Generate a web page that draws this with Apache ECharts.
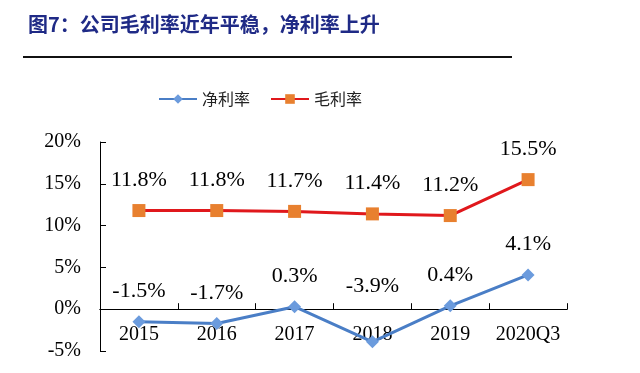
<!DOCTYPE html>
<html><head><meta charset="utf-8">
<script src="https://cdn.jsdelivr.net/npm/echarts@6/dist/echarts.min.js"></script>
<style>html,body{margin:0;padding:0;background:#fff}#c{width:640px;height:373px}</style>
</head><body><div id="c"></div>
<script>
const categories = ['2015','2016','2017','2018','2019','2020Q3'];
const netMargin = [-1.5, -1.7, 0.3, -3.9, 0.4, 4.1];
const grossMargin = [11.8, 11.8, 11.7, 11.4, 11.2, 15.5];
const yTicks = [-5, 0, 5, 10, 15, 20];
const titleText = '图7：公司毛利率近年平稳，净利率上升';

const chart = echarts.init(document.getElementById('c'));
const labelStyle = {show:true, position:'top', distance:13, color:'#000', fontSize:22,
  fontFamily:'Liberation Serif', formatter: p => p.value.toFixed(1) + '%'};
chart.setOption({
  backgroundColor:'#fff',
  animation:false,
  title:{text:titleText, left:23, top:9, textStyle:{color:'#1F2A86', fontSize:20, fontWeight:'bold', fontFamily:'Noto Sans CJK SC'}},
  graphic:[{type:'line', shape:{x1:23,y1:57,x2:512,y2:57}, style:{stroke:'#111', lineWidth:2}}],
  legend:{top:86, left:153, itemWidth:38, itemHeight:12, itemGap:20,
    data:['净利率','毛利率'],
    textStyle:{fontSize:16, color:'#222', fontFamily:'Noto Sans CJK SC'}},
  grid:[
    {left:100, right:73, top:142, bottom:22, outerBoundsMode:'none', containLabel:false},
    {left:100, right:73, top:142, bottom:64, outerBoundsMode:'none', containLabel:false}
  ],
  xAxis:[
    {type:'category', data:categories, gridIndex:0,
      axisLine:{show:true, onZero:true, lineStyle:{color:'#000', width:1}},
      axisTick:{show:false},
      axisLabel:{color:'#000', fontSize:20, fontFamily:'Liberation Serif', margin:-26, interval:0, hideOverlap:false}},
    {type:'category', data:categories, gridIndex:1, position:'bottom',
      axisLine:{show:true, onZero:false, lineStyle:{color:'#000', width:1}},
      axisTick:{show:true, inside:true, length:6, lineStyle:{color:'#000', width:1}},
      axisLabel:{show:false}}
  ],
  yAxis:[
    {type:'value', gridIndex:0, min:yTicks[0], max:yTicks[yTicks.length-1], interval:5,
      splitLine:{show:false},
      axisLine:{show:true, lineStyle:{color:'#000', width:1}},
      axisTick:{show:true, inside:true, length:6, lineStyle:{color:'#000'}},
      axisLabel:{color:'#000', fontSize:20, fontFamily:'Liberation Serif', margin:19, formatter:'{value}%'}},
    {type:'value', gridIndex:1, show:false}
  ],
  series:[
    {name:'净利率', type:'line', data:netMargin.map((v,i)=> i===3 ? {value:v, label:{distance:38}} : v),
      symbol:'diamond', symbolSize:13, z:3,
      lineStyle:{color:'#4A7EC6', width:3}, itemStyle:{color:'#6B9BDD'},
      label:labelStyle},
    {name:'毛利率', type:'line', data:grossMargin,
      symbol:'rect', symbolSize:13, z:3,
      lineStyle:{color:'#E0181C', width:3}, itemStyle:{color:'#E8802F'},
      label:labelStyle}
  ]
});
// align the tick-carrying axis with the zero line of the value axis
const zeroY = chart.convertToPixel({yAxisIndex:0}, 0);
chart.setOption({grid:[{}, {bottom: 373 - zeroY}]});
</script></body></html>
